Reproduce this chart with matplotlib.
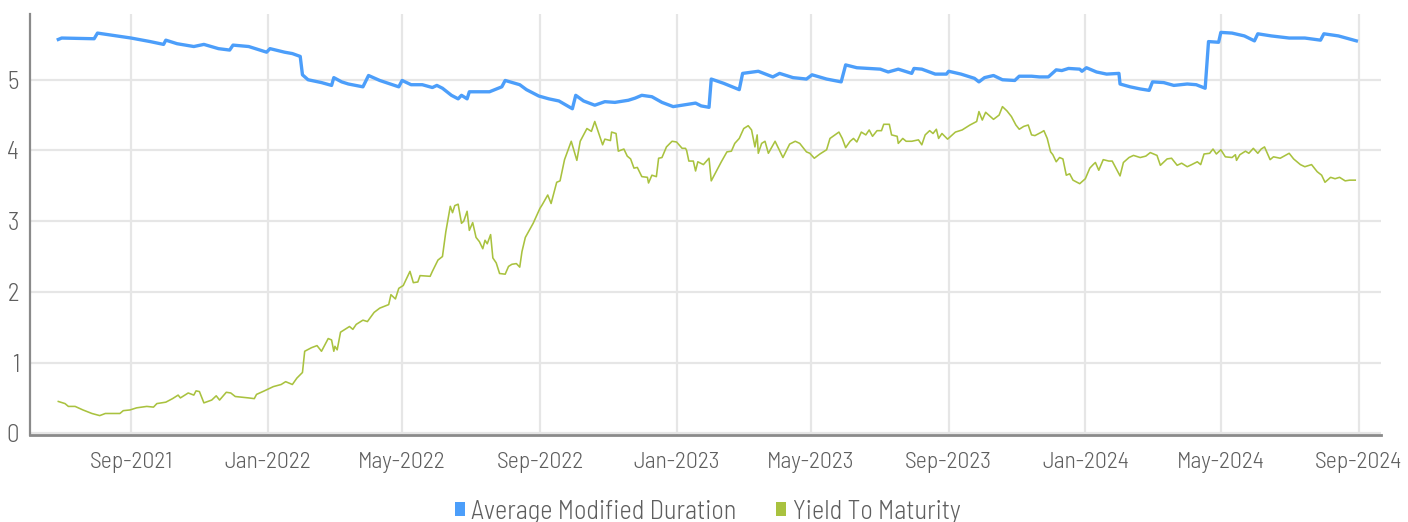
import matplotlib
matplotlib.use("Agg")
import matplotlib.pyplot as plt
import matplotlib.dates as mdates
from matplotlib.patches import Patch
import pandas as pd

# ---------------- data ----------------
dur_dates = [
    "2021-06-28", "2021-07-01", "2021-07-30", "2021-08-02", "2021-08-19", "2021-09-01",
    "2021-09-18", "2021-09-30", "2021-10-02", "2021-10-12", "2021-10-27", "2021-11-05",
    "2021-11-18", "2021-11-28", "2021-12-01", "2021-12-15", "2021-12-31", "2022-01-03",
    "2022-01-16", "2022-01-23", "2022-01-30", "2022-02-01", "2022-02-06", "2022-02-18",
    "2022-02-27", "2022-03-01", "2022-03-08", "2022-03-14", "2022-03-27", "2022-04-01",
    "2022-04-11", "2022-04-28", "2022-05-01", "2022-05-09", "2022-05-19", "2022-05-28",
    "2022-06-01", "2022-06-06", "2022-06-14", "2022-06-20", "2022-06-23", "2022-06-28",
    "2022-06-30", "2022-07-09", "2022-07-18", "2022-07-29", "2022-08-01", "2022-08-14",
    "2022-08-20", "2022-08-31", "2022-09-09", "2022-09-18", "2022-09-30", "2022-10-03",
    "2022-10-10", "2022-10-20", "2022-10-29", "2022-11-07", "2022-11-19", "2022-11-25",
    "2022-12-01", "2022-12-10", "2022-12-19", "2022-12-29", "2023-01-06", "2023-01-18",
    "2023-01-23", "2023-01-30", "2023-02-01", "2023-02-12", "2023-02-26", "2023-03-01",
    "2023-03-10", "2023-03-15", "2023-03-28", "2023-04-03", "2023-04-15", "2023-04-27",
    "2023-05-02", "2023-05-15", "2023-05-28", "2023-06-01", "2023-06-11", "2023-07-02",
    "2023-07-09", "2023-07-18", "2023-07-30", "2023-08-01", "2023-08-08", "2023-08-20",
    "2023-08-30", "2023-09-01", "2023-09-12", "2023-09-24", "2023-09-28", "2023-10-03",
    "2023-10-11", "2023-10-19", "2023-10-30", "2023-11-03", "2023-11-14", "2023-11-21",
    "2023-11-29", "2023-12-06", "2023-12-11", "2023-12-17", "2023-12-27", "2023-12-29",
    "2024-01-02", "2024-01-11", "2024-01-20", "2024-01-31", "2024-02-01", "2024-02-10",
    "2024-02-19", "2024-02-27", "2024-03-01", "2024-03-11", "2024-03-20", "2024-04-01",
    "2024-04-09", "2024-04-17", "2024-04-20", "2024-04-29", "2024-05-01", "2024-05-11",
    "2024-05-22", "2024-05-31", "2024-06-03", "2024-06-15", "2024-07-01", "2024-07-15",
    "2024-07-29", "2024-08-01", "2024-08-14", "2024-08-30",
]
dur_values = [
    5.57, 5.59, 5.58, 5.66, 5.62, 5.59,
    5.54, 5.50, 5.56, 5.51, 5.47, 5.50,
    5.44, 5.42, 5.49, 5.47, 5.39, 5.44,
    5.39, 5.37, 5.33, 5.07, 5.00, 4.96,
    4.92, 5.03, 4.97, 4.94, 4.90, 5.06,
    4.99, 4.90, 4.99, 4.93, 4.93, 4.89,
    4.92, 4.88, 4.78, 4.73, 4.78, 4.73,
    4.83, 4.83, 4.83, 4.90, 4.99, 4.93,
    4.86, 4.77, 4.73, 4.70, 4.59, 4.78,
    4.70, 4.64, 4.69, 4.68, 4.71, 4.74,
    4.78, 4.76, 4.68, 4.62, 4.64, 4.67,
    4.63, 4.61, 5.01, 4.95, 4.86, 5.09,
    5.11, 5.12, 5.04, 5.09, 5.03, 5.01,
    5.07, 5.01, 4.97, 5.21, 5.17, 5.15,
    5.11, 5.15, 5.09, 5.16, 5.15, 5.08,
    5.08, 5.12, 5.08, 5.02, 4.97, 5.03,
    5.06, 5.00, 4.99, 5.05, 5.05, 5.04,
    5.04, 5.14, 5.13, 5.16, 5.15, 5.12,
    5.17, 5.11, 5.08, 5.09, 4.94, 4.90,
    4.87, 4.85, 4.97, 4.96, 4.92, 4.94,
    4.93, 4.88, 5.54, 5.53, 5.67, 5.66,
    5.62, 5.55, 5.65, 5.62, 5.59, 5.59,
    5.56, 5.65, 5.62, 5.55,
]

ytm_dates = [
    "2021-06-28", "2021-07-04", "2021-07-07", "2021-07-13", "2021-07-20", "2021-07-28",
    "2021-08-04", "2021-08-09", "2021-08-22", "2021-08-25", "2021-08-31", "2021-09-06",
    "2021-09-15", "2021-09-21", "2021-09-24", "2021-10-02", "2021-10-08", "2021-10-13",
    "2021-10-15", "2021-10-22", "2021-10-27", "2021-10-29", "2021-11-01", "2021-11-05",
    "2021-11-12", "2021-11-16", "2021-11-19", "2021-11-25", "2021-11-29", "2021-12-03",
    "2021-12-15", "2021-12-20", "2021-12-22", "2021-12-29", "2022-01-06", "2022-01-13",
    "2022-01-17", "2022-01-23", "2022-01-27", "2022-02-01", "2022-02-03", "2022-02-09",
    "2022-02-14", "2022-02-18", "2022-02-24", "2022-02-27", "2022-03-01", "2022-03-02",
    "2022-03-04", "2022-03-07", "2022-03-15", "2022-03-18", "2022-03-21", "2022-03-27",
    "2022-03-31", "2022-04-06", "2022-04-11", "2022-04-19", "2022-04-21", "2022-04-25",
    "2022-04-28", "2022-05-02", "2022-05-08", "2022-05-11", "2022-05-15", "2022-05-17",
    "2022-05-26", "2022-05-28", "2022-06-02", "2022-06-06", "2022-06-09", "2022-06-13",
    "2022-06-15", "2022-06-17", "2022-06-20", "2022-06-23", "2022-06-25", "2022-06-28",
    "2022-06-30", "2022-07-03", "2022-07-06", "2022-07-09", "2022-07-12", "2022-07-14",
    "2022-07-16", "2022-07-19", "2022-07-21", "2022-07-24", "2022-07-27", "2022-08-01",
    "2022-08-04", "2022-08-07", "2022-08-11", "2022-08-14", "2022-08-16", "2022-08-19",
    "2022-08-26", "2022-09-01", "2022-09-03", "2022-09-08", "2022-09-11", "2022-09-16",
    "2022-09-19", "2022-09-23", "2022-09-29", "2022-10-04", "2022-10-07", "2022-10-13",
    "2022-10-17", "2022-10-20", "2022-10-23", "2022-10-27", "2022-10-29", "2022-11-03",
    "2022-11-04", "2022-11-08", "2022-11-10", "2022-11-15", "2022-11-18", "2022-11-21",
    "2022-11-24", "2022-11-27", "2022-12-01", "2022-12-06", "2022-12-07", "2022-12-10",
    "2022-12-14", "2022-12-16", "2022-12-19", "2022-12-23", "2022-12-28", "2023-01-01",
    "2023-01-06", "2023-01-09", "2023-01-10", "2023-01-12", "2023-01-16", "2023-01-18",
    "2023-01-20", "2023-01-25", "2023-01-30", "2023-02-01", "2023-02-06", "2023-02-10",
    "2023-02-15", "2023-02-19", "2023-02-22", "2023-02-26", "2023-03-02", "2023-03-06",
    "2023-03-09", "2023-03-12", "2023-03-14", "2023-03-15", "2023-03-18", "2023-03-21",
    "2023-03-24", "2023-03-30", "2023-04-06", "2023-04-12", "2023-04-17", "2023-04-21",
    "2023-04-27", "2023-04-30", "2023-05-04", "2023-05-09", "2023-05-15", "2023-05-18",
    "2023-05-26", "2023-05-29", "2023-06-01", "2023-06-05", "2023-06-08", "2023-06-11",
    "2023-06-15", "2023-06-19", "2023-06-22", "2023-06-25", "2023-06-29", "2023-07-03",
    "2023-07-05", "2023-07-10", "2023-07-12", "2023-07-17", "2023-07-18", "2023-07-22",
    "2023-07-25", "2023-07-30", "2023-08-05", "2023-08-08", "2023-08-11", "2023-08-15",
    "2023-08-18", "2023-08-21", "2023-08-23", "2023-08-26", "2023-08-31", "2023-09-07",
    "2023-09-13", "2023-09-20", "2023-09-26", "2023-09-28", "2023-10-01", "2023-10-04",
    "2023-10-11", "2023-10-16", "2023-10-19", "2023-10-23", "2023-10-27", "2023-10-31",
    "2023-11-03", "2023-11-07", "2023-11-11", "2023-11-14", "2023-11-17", "2023-11-23",
    "2023-11-25", "2023-11-28", "2023-12-01", "2023-12-03", "2023-12-06", "2023-12-09",
    "2023-12-12", "2023-12-15", "2023-12-18", "2023-12-21", "2023-12-27", "2024-01-01",
    "2024-01-05", "2024-01-08", "2024-01-10", "2024-01-13", "2024-01-17", "2024-01-22",
    "2024-01-25", "2024-02-01", "2024-02-04", "2024-02-09", "2024-02-13", "2024-02-19",
    "2024-02-24", "2024-02-28", "2024-03-05", "2024-03-08", "2024-03-14", "2024-03-18",
    "2024-03-23", "2024-03-27", "2024-04-01", "2024-04-05", "2024-04-10", "2024-04-13",
    "2024-04-16", "2024-04-21", "2024-04-24", "2024-04-27", "2024-05-01", "2024-05-05",
    "2024-05-11", "2024-05-14", "2024-05-15", "2024-05-18", "2024-05-23", "2024-05-26",
    "2024-05-30", "2024-06-03", "2024-06-06", "2024-06-09", "2024-06-14", "2024-06-17",
    "2024-06-23", "2024-07-01", "2024-07-05", "2024-07-11", "2024-07-15", "2024-07-21",
    "2024-07-26", "2024-07-30", "2024-08-02", "2024-08-07", "2024-08-11", "2024-08-15",
    "2024-08-20", "2024-08-24", "2024-08-29",
]
ytm_values = [
    0.45, 0.42, 0.38, 0.38, 0.33, 0.28,
    0.25, 0.28, 0.28, 0.32, 0.33, 0.36,
    0.38, 0.37, 0.42, 0.44, 0.49, 0.54,
    0.50, 0.57, 0.54, 0.60, 0.59, 0.43,
    0.47, 0.53, 0.47, 0.58, 0.57, 0.52,
    0.50, 0.49, 0.55, 0.60, 0.66, 0.69,
    0.73, 0.69, 0.78, 0.86, 1.16, 1.21,
    1.24, 1.16, 1.34, 1.32, 1.16, 1.23,
    1.18, 1.43, 1.51, 1.47, 1.54, 1.60,
    1.58, 1.71, 1.77, 1.82, 1.96, 1.90,
    2.05, 2.09, 2.29, 2.13, 2.14, 2.23,
    2.22, 2.29, 2.45, 2.50, 2.85, 3.21,
    3.12, 3.22, 3.24, 2.97, 3.00, 3.14,
    2.87, 2.98, 2.77, 2.71, 2.61, 2.73,
    2.68, 2.81, 2.48, 2.41, 2.26, 2.25,
    2.36, 2.39, 2.40, 2.35, 2.57, 2.77,
    2.97, 3.18, 3.23, 3.37, 3.25, 3.55,
    3.57, 3.87, 4.13, 3.86, 4.13, 4.31,
    4.27, 4.41, 4.27, 4.08, 4.16, 4.14,
    4.26, 4.24, 3.99, 4.02, 3.92, 3.88,
    3.75, 3.76, 3.63, 3.62, 3.54, 3.65,
    3.63, 3.89, 3.90, 4.05, 4.13, 4.12,
    4.03, 4.03, 4.00, 3.85, 3.85, 3.71,
    3.84, 3.80, 3.89, 3.57, 3.72, 3.84,
    3.98, 3.99, 4.10, 4.17, 4.31, 4.35,
    4.29, 4.05, 4.22, 3.96, 4.10, 4.13,
    3.96, 4.13, 3.90, 4.09, 4.13, 4.10,
    3.98, 3.96, 3.89, 3.95, 4.01, 4.17,
    4.26, 4.17, 4.04, 4.13, 4.17, 4.12,
    4.26, 4.22, 4.29, 4.20, 4.28, 4.28,
    4.37, 4.37, 4.22, 4.20, 4.10, 4.17,
    4.13, 4.13, 4.15, 4.08, 4.22, 4.28,
    4.24, 4.30, 4.17, 4.24, 4.16, 4.26,
    4.29, 4.36, 4.41, 4.55, 4.43, 4.54,
    4.44, 4.50, 4.62, 4.56, 4.48, 4.36,
    4.30, 4.34, 4.36, 4.22, 4.21, 4.26,
    4.28, 4.17, 3.98, 3.94, 3.84, 3.90,
    3.88, 3.65, 3.67, 3.58, 3.53, 3.60,
    3.75, 3.80, 3.83, 3.72, 3.87, 3.85,
    3.85, 3.64, 3.83, 3.90, 3.93, 3.90,
    3.92, 3.97, 3.93, 3.79, 3.88, 3.89,
    3.79, 3.82, 3.77, 3.80, 3.84, 3.80,
    3.95, 3.96, 4.02, 3.95, 4.01, 3.91,
    3.90, 3.94, 3.86, 3.94, 3.99, 3.96,
    4.03, 3.96, 4.02, 4.05, 3.87, 3.91,
    3.89, 3.96, 3.88, 3.80, 3.77, 3.80,
    3.70, 3.65, 3.55, 3.62, 3.60, 3.62,
    3.57, 3.58, 3.58,
]

series_names = ["Average Modified Duration", "Yield To Maturity"]
series_colors = ["#4c9efa", "#a9c23f"]
x_tick_dates = ["2021-09-01", "2022-01-01", "2022-05-01", "2022-09-01", "2023-01-01",
                "2023-05-01", "2023-09-01", "2024-01-01", "2024-05-01", "2024-09-01"]
y_ticks = [0, 1, 2, 3, 4, 5]

# ---------------- plot ----------------
FONT = ["Barlow Semi Condensed", "Fira Sans Condensed", "DejaVu Sans"]
plt.rcParams["font.family"] = FONT
plt.rcParams["font.weight"] = 300
TXT = "#5e5e5e"

fig = plt.figure(figsize=(14.08, 5.22), dpi=100)
ax = fig.add_axes([30.3 / 1408, (522 - 435.4) / 522, (1381 - 30.3) / 1408, (435.4 - 14) / 522])

dd = pd.to_datetime(dur_dates)
yd = pd.to_datetime(ytm_dates)
ax.plot(yd, ytm_values, color=series_colors[1], lw=1.15, zorder=3)
ax.plot(dd, dur_values, color=series_colors[0], lw=2.4, zorder=4, solid_joinstyle="round")

ax.set_xlim(pd.Timestamp("2021-06-03"), pd.Timestamp("2024-09-21"))
ax.set_ylim(-0.03, 5.93)
ax.set_xticks(pd.to_datetime(x_tick_dates))
ax.xaxis.set_major_formatter(mdates.DateFormatter("%b-%Y"))
ax.set_yticks(y_ticks)
ax.set_yticklabels([str(v) for v in y_ticks])

ax.grid(True, color="#e6e6e6", lw=1.6, zorder=0)
ax.set_axisbelow(True)
for s in ["top", "right"]:
    ax.spines[s].set_visible(False)
ax.spines["left"].set_color("#8a8a8a")
ax.spines["left"].set_linewidth(1.6)
ax.spines["bottom"].set_color("#8a8a8a")
ax.spines["bottom"].set_linewidth(2.0)

ax.tick_params(axis="both", length=0, labelcolor=TXT)
ax.tick_params(axis="x", pad=12, labelsize=17)
ax.tick_params(axis="y", pad=8, labelsize=18)

handles = [Patch(facecolor=c, edgecolor="none") for c in series_colors]
fig.legend(handles, series_names, loc="center", bbox_to_anchor=(0.5025, (522 - 511.5) / 522),
           ncol=2, frameon=False, prop={"size": 19, "weight": 300}, labelcolor=TXT,
           handlelength=0.38, handleheight=0.45, handletextpad=0.25, columnspacing=1.5,
           borderpad=0, borderaxespad=0)

fig.savefig("out.png", dpi=100)
